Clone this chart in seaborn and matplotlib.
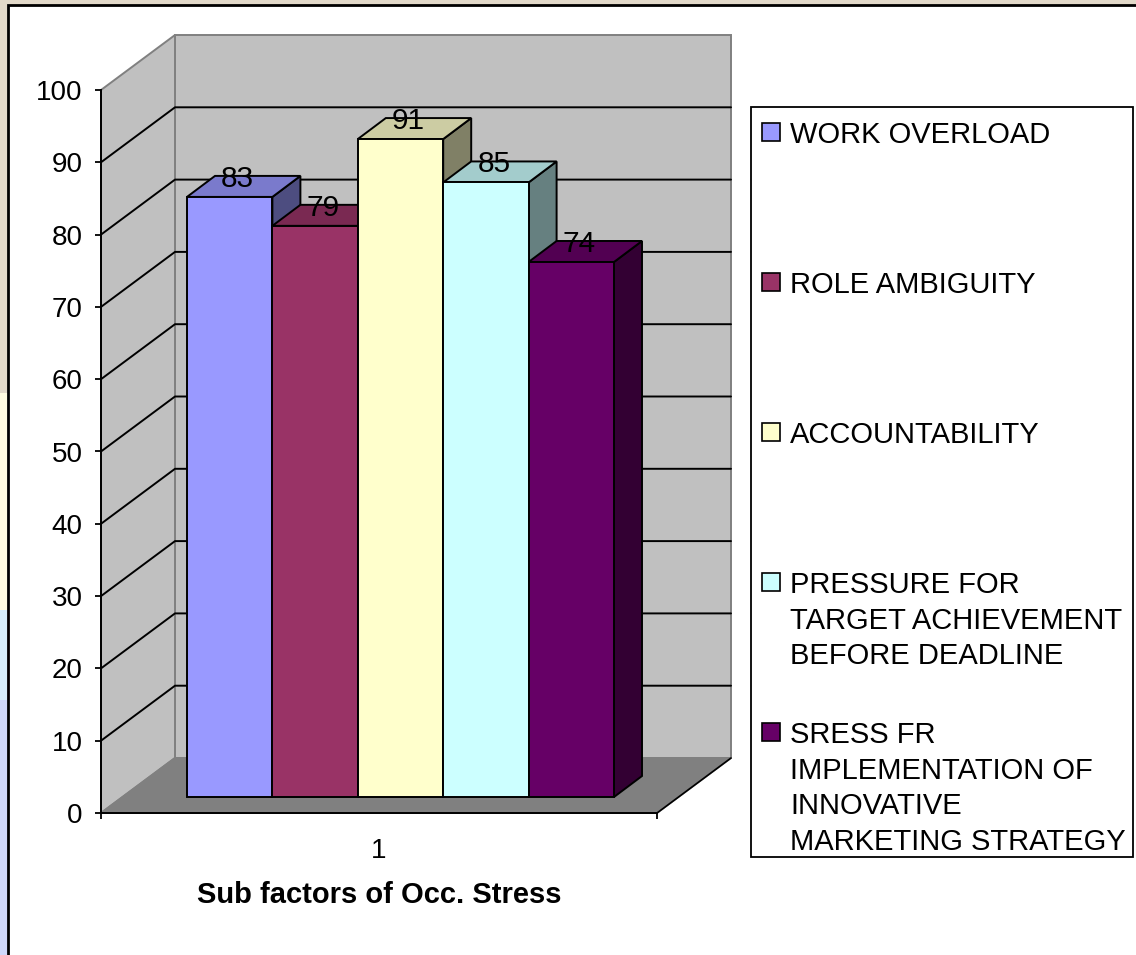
import matplotlib
matplotlib.use("Agg")
import matplotlib.pyplot as plt
import matplotlib.transforms as mtransforms
from matplotlib.patches import Polygon, Rectangle
from matplotlib.colors import to_rgb
import seaborn as sns
import pandas as pd
import numpy as np


# data
factors = ["WORK OVERLOAD",
           "ROLE AMBIGUITY",
           "ACCOUNTABILITY",
           "PRESSURE FOR\nTARGET ACHIEVEMENT\nBEFORE DEADLINE",
           "SRESS FR\nIMPLEMENTATION OF\nINNOVATIVE\nMARKETING STRATEGY"]
scores = [83, 79, 91, 85, 74]
group = ["1"] * len(factors)
front_colors = ["#9999ff", "#993366", "#ffffcc", "#ccffff", "#660066"]
y_ticks = list(range(0, 101, 10))

W, H, DPI = 1136, 955, 100

sns.set_theme(style="white")
plt.rcParams["font.family"] = ["Liberation Sans", "DejaVu Sans"]

fig = plt.figure(figsize=(W / DPI, H / DPI), dpi=DPI, facecolor="#e2d9c9")

# pixel coords measured from the top-left corner
pix = mtransforms.Affine2D().scale(1 / W, -1 / H).translate(0, 1) + fig.transFigure


def shade(c, f):
    return tuple(np.array(to_rgb(c)) * f)


# =========================
# background / chart panel
# =========================
fig.add_artist(Rectangle((0, 393), 8, 217, transform=pix, fc="#fffbe0", ec="none", zorder=-3))
fig.add_artist(Rectangle((0, 610), 8, 90, transform=pix, fc="#d6f0fc", ec="none", zorder=-3))
fig.add_artist(Rectangle((0, 700), 8, 260, transform=pix, fc="#cfd8fa", ec="none", zorder=-3))
fig.add_artist(Rectangle((8, 5), 1140, 960, transform=pix, fc="white",
                         ec="black", lw=2, zorder=-2))

ax = fig.add_axes([101 / W, 1 - 813 / H, (657 - 101) / W, (813 - 90) / H])
ax.patch.set_alpha(0)

df = pd.DataFrame({"group": group, "factor": factors, "score": scores})

sns.barplot(data=df, x="group", y="score", hue="factor", hue_order=factors,
            palette=front_colors, width=0.768, dodge=True, saturation=1,
            edgecolor="black", linewidth=1.4, errorbar=None, legend=False,
            ax=ax)

bars = sorted(ax.patches, key=lambda p: p.get_x())

ax.set_xlim(-0.5, 0.5)
ax.set_ylim(0, 100)

px_x = ax.bbox.width / 1.0
px_y = ax.bbox.height / 100.0


def off(dx, dy):
    return dx / px_x, dy / px_y


# walls and floor
x0, x1 = -0.5, 0.5
bx, by = off(74, 55)

ax.add_patch(Polygon([(x0 + bx, by), (x1 + bx, by), (x1 + bx, 100 + by), (x0 + bx, 100 + by)],
                     closed=True, fc="#c0c0c0", ec="#808080", lw=1.4, clip_on=False, zorder=0.5))
ax.add_patch(Polygon([(x0, 0), (x0, 100), (x0 + bx, 100 + by), (x0 + bx, by)],
                     closed=True, fc="#c0c0c0", ec="#808080", lw=1.4, clip_on=False, zorder=0.5))
ax.add_patch(Polygon([(x0, 0), (x1, 0), (x1 + bx, by), (x0 + bx, by)],
                     closed=True, fc="#808080", ec="#808080", lw=1.4, clip_on=False, zorder=0.6))
ax.plot([x1, x1 + bx], [0, by], color="black", lw=1.2, clip_on=False, zorder=0.7)

for v in y_ticks[1:-1]:
    ax.plot([x0, x0 + bx, x1 + bx], [v, v + by, v + by],
            color="black", lw=1.4, clip_on=False, zorder=0.8)


# 3D bars
bar_trans = ax.transData + mtransforms.ScaledTranslation(21.5 / DPI, 16 / DPI, fig.dpi_scale_trans)
dx, dy = off(28, 21)

for i, (bar, col) in enumerate(zip(bars, front_colors)):
    left = bar.get_x()
    w = bar.get_width()
    h = bar.get_height()

    bar.set_transform(bar_trans)
    bar.set_clip_on(False)
    bar.set_zorder(3 + 3 * i + 2)

    side = Polygon([(left + w, 0), (left + w + dx, dy), (left + w + dx, h + dy), (left + w, h)],
                   closed=True, fc=shade(col, 0.5), ec="black", lw=1.4,
                   transform=bar_trans, clip_on=False, zorder=3 + 3 * i)
    top = Polygon([(left, h), (left + w, h), (left + w + dx, h + dy), (left + dx, h + dy)],
                  closed=True, fc=shade(col, 0.8), ec="black", lw=1.4,
                  transform=bar_trans, clip_on=False, zorder=3 + 3 * i + 1)
    ax.add_patch(side)
    ax.add_patch(top)

    ax.text(left + w / 2 + off(8, 0)[0], h + dy - off(0, 3)[1], f"{h:.0f}",
            transform=bar_trans, ha="center", va="center", fontsize=21.5,
            color="black", zorder=30)


# axes styling
for s in ["top", "right"]:
    ax.spines[s].set_visible(False)
for s in ["left", "bottom"]:
    ax.spines[s].set_color("black")
    ax.spines[s].set_linewidth(1.4)
    ax.spines[s].set_zorder(1)

ax.set_yticks(y_ticks)
ax.tick_params(axis="y", left=True, direction="out", length=4.3, width=1.3,
               color="black", pad=9.0, labelsize=20, labelcolor="black")

ax.set_xticks([0], ["1"])
ax.tick_params(axis="x", which="major", bottom=False, length=0, pad=18,
               labelsize=20, labelcolor="black")
ax.set_xticks([-0.5, 0.5], minor=True)
ax.tick_params(axis="x", which="minor", bottom=True, direction="out",
               length=4.3, width=1.3, color="black")

ax.set_xlabel("Sub factors of Occ. Stress", fontsize=21, fontweight="bold",
              labelpad=12, color="black")
ax.set_ylabel("")


# legend
fig.add_artist(Rectangle((751, 107), 382, 750, transform=pix, fc="white",
                         ec="black", lw=1.3))
entry_y = [132, 282, 432, 582, 732]
for lab, col, yc in zip(factors, front_colors, entry_y):
    fig.add_artist(Rectangle((762, yc - 9), 18, 18, transform=pix, fc=col,
                             ec="black", lw=1.2))
    fig.text(790, yc - 11, lab, transform=pix, ha="left", va="top",
             fontsize=21, linespacing=1.35, color="black")

fig.savefig("out.png", dpi=DPI, facecolor=fig.get_facecolor())
